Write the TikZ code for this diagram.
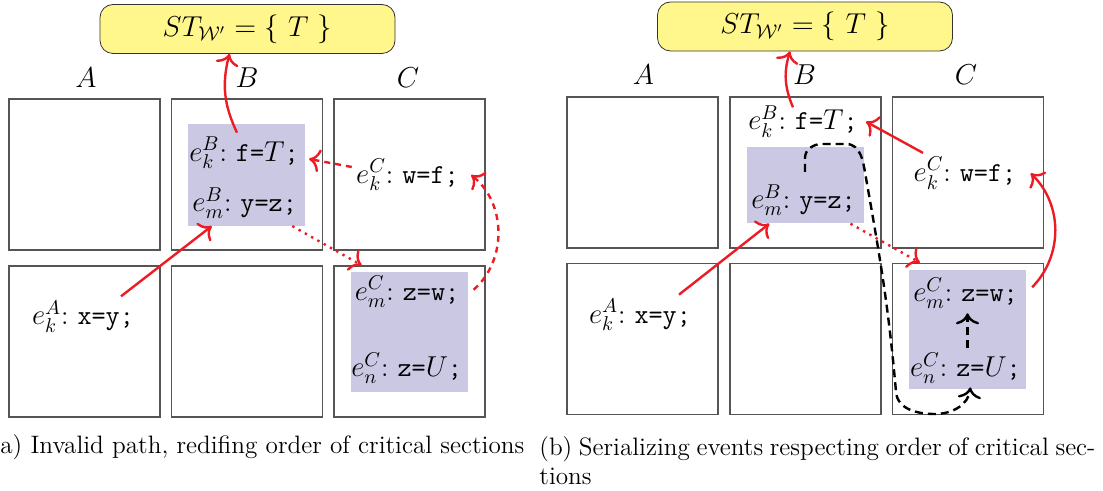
\documentclass[tikz,border=0pt]{standalone}
\usepackage{amsmath,amssymb}
\usepackage{xcolor}
\usepackage{tikz}
\usetikzlibrary{arrows.meta,positioning}
\definecolor{redx}{HTML}{EC1C24}
\definecolor{lilac}{HTML}{CBC8E3}
\definecolor{lemon}{HTML}{FFF68C}
\definecolor{cellgray}{HTML}{555555}
\tikzset{
  cell/.style={draw=cellgray,line width=0.7pt,minimum width=75.5pt,minimum height=75.5pt,inner sep=0pt},
  shadebox/.style={fill=lilac,inner sep=0pt},
  stbox/.style={draw=black!80,fill=lemon,rounded corners=6.5pt,minimum width=147.5pt,minimum height=24.5pt,font=\Large},
  ev/.style={font=\fontsize{13.7pt}{16pt}\selectfont,inner sep=2pt},
  lbl/.style={font=\fontsize{13.7pt}{16pt}\selectfont},
  captext/.style={font=\fontsize{12.6pt}{14.5pt}\selectfont,inner sep=0pt},
  ar/.style={-{To[scale=1.3]},very thick,redx},
  ardash/.style={ar,dash pattern=on 3pt off 2.5pt},
  ardot/.style={-{To[scale=1.3]},redx,line width=1.2pt,dash pattern=on 1.2pt off 2.4pt},
  blkdash/.style={-{To[scale=1.3]},very thick,black,dash pattern=on 4pt off 2.5pt}
}
\newcommand{\ev}[3]{$e^{#1}_{#2}$:~#3}

\begin{document}
\begin{tikzpicture}[x=0.5pt,y=-0.5pt]
\useasboundingbox (0,0) rectangle (1103,491);
% (a)
\node[stbox] (sta) at (247.5,29) {$ST_{\mathcal{W}'}=\{\ T\ \}$};
\node[lbl] (la) at (86,78) {$A$};
\node[lbl] (lb) at (247,78) {$B$};
\node[lbl] (lc) at (408,78) {$C$};
\node[cell] (a1a) at (84.3,174.5) {};
\node[cell] (b1a) at (247.2,174.5) {};
\node[cell] (c1a) at (409.3,174.5) {};
\node[cell] (a2a) at (84.3,341.5) {};
\node[cell] (b2a) at (247.2,341.5) {};
\node[cell] (c2a) at (409.3,341.5) {};
\node[shadebox,minimum width=58.6pt,minimum height=50.8pt] (shba) at (246.3,174.9) {};
\node[shadebox,minimum width=58.4pt,minimum height=60pt] (shca) at (409.3,332) {};
\node[ev] (fta) at (244,153) {\ev{B}{k}{\texttt{f=}$T$\texttt{;}}};
\node[ev] (yza) at (244.7,203) {\ev{B}{m}{\texttt{y=z;}}};
\node[ev] (wfa) at (407.5,175) {\ev{C}{k}{\texttt{w=f;}}};
\node[ev] (zwa) at (407,291.7) {\ev{C}{m}{\texttt{z=w;}}};
\node[ev] (zua) at (406.7,368) {\ev{C}{n}{\texttt{z=}$U$\texttt{;}}};
\node[ev] (xya) at (83,316.7) {\ev{A}{k}{\texttt{x=y;}}};
\draw[ar] ([xshift=-3.5pt]fta.north) to[bend left=20] ([xshift=-9pt]sta.south);
\draw[ardash] ([yshift=4pt]wfa.west) -- ([xshift=3pt,yshift=-3pt]fta.east);
\draw[ardash] ([xshift=5pt,yshift=1pt]zwa.east) to[bend right=50] ([xshift=4pt]wfa.east);
\draw[ar] ([xshift=19pt]xya.north) -- ([xshift=-17.3pt]shba.south);
\draw[ardot] ([xshift=-6.5pt]shba.south east) -- ([xshift=-23.8pt]c2a.north);
\node[captext,anchor=base west] (capa) at (0,454) {a) Invalid path, redifing order of critical sections};
% (b)
\node[stbox] (stb) at (805,26.5) {$ST_{\mathcal{W}'}=\{\ T\ \}$};
\node[lbl] (la2) at (643.5,75) {$A$};
\node[lbl] (lb2) at (804.6,75) {$B$};
\node[lbl] (lc2) at (966,75) {$C$};
\node[cell] (a1b) at (642.5,172.4) {};
\node[cell] (b1b) at (805.3,172.4) {};
\node[cell] (c1b) at (967.8,172.4) {};
\node[cell] (a2b) at (642.5,338.8) {};
\node[cell] (b2b) at (805.3,338.8) {};
\node[cell] (c2b) at (967.8,338.8) {};
\node[shadebox,minimum width=58.4pt,minimum height=38.3pt] (shbb) at (805.7,185) {};
\node[shadebox,minimum width=58.4pt,minimum height=59.5pt] (shcb) at (967.3,329.5) {};
\node[ev] (ftb) at (803,121.7) {\ev{B}{k}{\texttt{f=}$T$\texttt{;}}};
\node[ev] (yzb) at (803.5,200) {\ev{B}{m}{\texttt{y=z;}}};
\node[ev] (wfb) at (965,173.3) {\ev{C}{k}{\texttt{w=f;}}};
\node[ev] (zwb) at (965.5,293.3) {\ev{C}{m}{\texttt{z=w;}}};
\node[ev] (zub) at (965.5,368.3) {\ev{C}{n}{\texttt{z=}$U$\texttt{;}}};
\node[ev] (xyb) at (640,315) {\ev{A}{k}{\texttt{x=y;}}};
\coordinate (loopb) at (805,172);
\draw[ar] ([xshift=-5pt,yshift=-3pt]ftb.north) to[bend left=20] ([xshift=-7.5pt]stb.south);
\draw[ar] ([xshift=-21pt]wfb.north) -- ([xshift=2pt]ftb.east);
\draw[ar] ([xshift=5pt,yshift=3pt]zwb.east) to[bend right=45] ([xshift=5pt]wfb.east);
\draw[ar] ([xshift=19.5pt]xyb.north) -- ([xshift=-18.2pt]shbb.south);
\draw[ardot] ([xshift=-7pt]shbb.south east) -- ([xshift=-24pt]c2b.north);
\draw[blkdash] ([xshift=1pt]zub.north) -- ([xshift=1pt]zwb.south);
\draw[blkdash] (loopb) -- (805,158) to[out=90,in=180] (822,144) -- (846,144)
  to[out=0,in=100] (866,178) to[out=-80,in=95] (896,392)
  to[out=-85,in=180] (935,414) to[out=0,in=-95] ([xshift=1.5pt,yshift=1pt]shcb.south);
\node[captext,anchor=north west,align=left] (capb) at (539,436) {\makebox[278pt][s]{(b) Serializing events respecting order of critical sec-}\\tions};
\end{tikzpicture}
\end{document}
